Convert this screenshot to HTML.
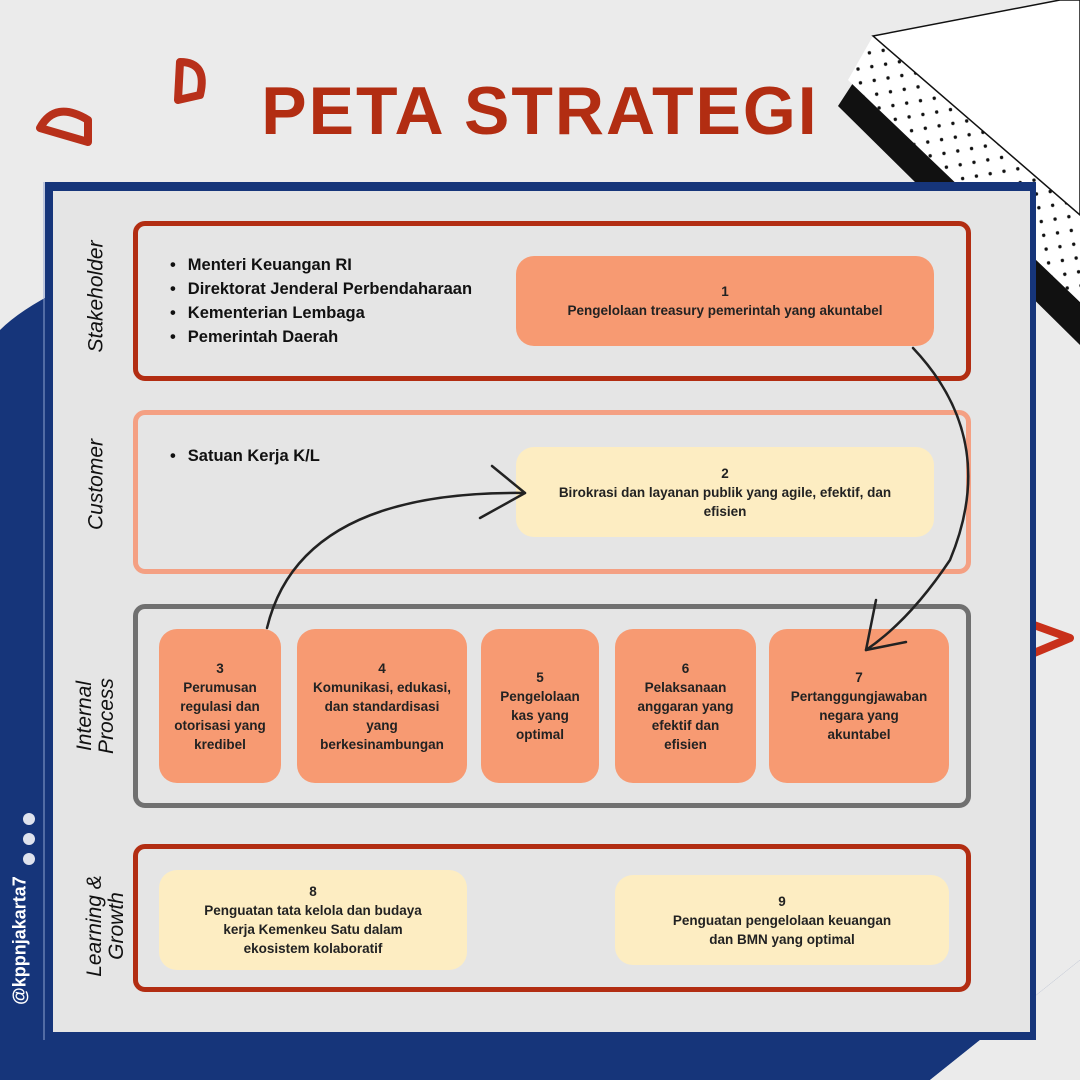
<!DOCTYPE html>
<html><head><meta charset="utf-8"><style>
*{margin:0;padding:0;box-sizing:border-box}
body{width:1080px;height:1080px;position:relative;overflow:hidden;background:#ebebeb;font-family:"Liberation Sans",sans-serif}
.a{position:absolute}
.box{position:absolute;border-radius:12px}
.n{position:absolute;border-radius:18px;display:flex;align-items:center;justify-content:center;text-align:center;font-size:13.5px;font-weight:bold;color:#222;line-height:19px}
.lab{position:absolute;transform:rotate(-90deg);transform-origin:center;font-style:italic;font-size:21px;color:#111;text-align:center;line-height:21px;white-space:nowrap}
ul{position:absolute;list-style:none;font-size:16px;font-weight:bold;color:#111;line-height:24px}
ul li:before{content:"•";margin-right:12px}
</style></head><body>
<svg class="a" style="left:0;top:0" width="1080" height="1080">
<path d="M0 330 Q20 310 60 290 L60 1080 L0 1080Z" fill="#16357a"/>
<path d="M0 1030 L1080 1030 L1080 960 L930 1080 L0 1080Z" fill="#16357a"/>
<polygon points="1080,960 1080,1080 930,1080" fill="#ebebeb"/>
<polygon points="853,83 838,106 1080,345 1080,302" fill="#111"/>
<defs><pattern id="d" width="14" height="14" patternUnits="userSpaceOnUse" patternTransform="rotate(-10)"><circle cx="7" cy="7" r="1.7" fill="#111"/></pattern></defs>
<polygon points="873,36 848,80 1080,302 1080,215" fill="#fff"/>
<polygon points="873,36 848,80 1080,302 1080,215" fill="url(#d)"/>
<polygon points="873,36 1060,0 1080,0 1080,215" fill="#fff" stroke="#111" stroke-width="1.5"/>
<path d="M40 128 Q55 100 88 120 L88 142 Z" fill="none" stroke="#b8301a" stroke-width="8" stroke-linejoin="round"/>
<path d="M180 62 Q208 62 200 95 L178 100 Z" fill="none" stroke="#b8301a" stroke-width="8" stroke-linejoin="round"/>
<path d="M1020 620 L1070 638 L1022 658 Z" fill="none" stroke="#c8301a" stroke-width="8" stroke-linejoin="round"/>
<circle cx="29" cy="819" r="6" fill="#dfe3ee"/><circle cx="29" cy="839" r="6" fill="#dfe3ee"/><circle cx="29" cy="859" r="6" fill="#dfe3ee"/>
<line x1="44" y1="182" x2="44" y2="1040" stroke="#8fa2cf" stroke-width="1"/>
</svg>
<div class="a" style="left:0;top:72px;width:1080px;text-align:center;font-size:68px;font-weight:900;color:#b22d12;letter-spacing:2px">PETA STRATEGI</div>
<div class="a" style="left:45px;top:182px;width:991px;height:858px;background:#16357a"></div>
<div class="a" style="left:53px;top:191px;width:977px;height:841px;background:#e5e5e5"></div>
<div class="a" style="left:20px;top:940px;width:0;height:0"><div style="position:absolute;left:-80px;top:-10px;width:160px;transform:rotate(-90deg);color:#fff;font-weight:bold;font-size:18px;text-align:center">@kppnjakarta7</div></div>

<div class="box" style="left:133px;top:221px;width:838px;height:160px;border:5px solid #b22d12"></div>
<div class="box" style="left:133px;top:410px;width:838px;height:164px;border:5px solid #f4a083"></div>
<div class="box" style="left:133px;top:604px;width:838px;height:204px;border:5px solid #707070"></div>
<div class="box" style="left:133px;top:844px;width:838px;height:148px;border:5px solid #b22d12"></div>

<div class="lab" style="left:36px;top:286px;width:120px">Stakeholder</div>
<div class="lab" style="left:36px;top:474px;width:120px">Customer</div>
<div class="lab" style="left:36px;top:694px;width:120px;line-height:22px">Internal<br>Process</div>
<div class="lab" style="left:36px;top:904px;width:140px;line-height:22px">Learning &amp;<br>Growth</div>

<ul style="left:170px;top:253px;font-size:16.5px"><li>Menteri Keuangan RI</li><li>Direktorat Jenderal Perbendaharaan</li><li>Kementerian Lembaga</li><li>Pemerintah Daerah</li></ul>
<ul style="left:170px;top:444px;font-size:16.5px"><li>Satuan Kerja K/L</li></ul>

<div class="n" style="left:516px;top:256px;width:418px;height:90px;background:#f79a72">1<br>Pengelolaan treasury pemerintah yang akuntabel</div>
<div class="n" style="left:516px;top:447px;width:418px;height:90px;background:#fdedc2">2<br>Birokrasi dan layanan publik yang agile, efektif, dan<br>efisien</div>
<div class="n" style="left:159px;top:629px;width:122px;height:154px;background:#f79a72">3<br>Perumusan<br>regulasi dan<br>otorisasi yang<br>kredibel</div>
<div class="n" style="left:297px;top:629px;width:170px;height:154px;background:#f79a72">4<br>Komunikasi, edukasi,<br>dan standardisasi<br>yang<br>berkesinambungan</div>
<div class="n" style="left:481px;top:629px;width:118px;height:154px;background:#f79a72">5<br>Pengelolaan<br>kas yang<br>optimal</div>
<div class="n" style="left:615px;top:629px;width:141px;height:154px;background:#f79a72">6<br>Pelaksanaan<br>anggaran yang<br>efektif dan<br>efisien</div>
<div class="n" style="left:769px;top:629px;width:180px;height:154px;background:#f79a72">7<br>Pertanggungjawaban<br>negara yang<br>akuntabel</div>
<div class="n" style="left:159px;top:870px;width:308px;height:100px;background:#fdedc2">8<br>Penguatan tata kelola dan budaya<br>kerja Kemenkeu Satu dalam<br>ekosistem kolaboratif</div>
<div class="n" style="left:615px;top:875px;width:334px;height:90px;background:#fdedc2">9<br>Penguatan pengelolaan keuangan<br>dan BMN yang optimal</div>

<svg class="a" style="left:0;top:0" width="1080" height="1080" fill="none" stroke="#222" stroke-width="2.5" stroke-linecap="round">
<path d="M913 348 Q1000 440 950 560 Q910 620 866 650"/>
<path d="M866 650 L876 600 M866 650 L906 642"/>
<path d="M267 628 Q300 490 525 493"/>
<path d="M525 493 L492 466 M525 493 L480 518"/>
</svg>
</body></html>
